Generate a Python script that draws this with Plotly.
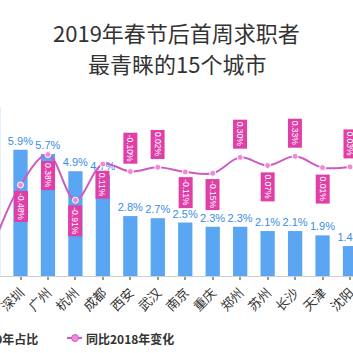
import plotly.graph_objects as go

cities = ["上海", "深圳", "广州", "杭州", "成都", "西安", "武汉", "南京",
          "重庆", "郑州", "苏州", "长沙", "天津", "沈阳"]
share_2019 = [7.9, 5.9, 5.7, 4.9, 4.7, 2.8, 2.7, 2.5, 2.3, 2.3, 2.1, 2.1, 1.9, 1.4]
change_vs_2018 = [-2.2, -0.48, 0.38, -0.91, 0.11, -0.10, 0.02, -0.11, -0.15,
                  0.30, 0.07, 0.33, 0.01, 0.03]
label_above = [False, False, False, False, False, True, True, False, False,
               True, False, True, False, True]
title_lines = ["2019年春节后首周求职者", "最青睐的15个城市"]

W, H = 353, 353
ML, MR, MT, MB = 0, 0, 80, 77
PW, PH = W - ML - MR, H - MT - MB

def px(x):
    return (x - ML) / PW

def py(y):
    return (H - MB - y) / PH

BAR_COLOR = "#5aa6f2"
LINE_COLOR = "#cc5cc4"
MARK_COLOR = "#f08ad8"
TAG_COLOR = "#e03fa8"

fig = go.Figure()
fig.add_trace(go.Bar(
    x=cities, y=share_2019, name="2019年占比",
    marker=dict(color=BAR_COLOR, line=dict(width=0)),
    texttemplate="%{y:.1f}%", textposition="outside",
    textfont=dict(color="#3b8de0", size=11, family="Liberation Sans, Arial"),
    constraintext="none", cliponaxis=False, width=0.52,
))
fig.add_trace(go.Scatter(
    x=cities, y=change_vs_2018, name="同比2018年变化", yaxis="y2",
    mode="lines+markers",
    line=dict(color=LINE_COLOR, width=2, shape="spline", smoothing=1.0),
    marker=dict(color=MARK_COLOR, size=6, line=dict(color="#ffffff", width=1)),
))

annotations = []
for c, v, up in zip(cities, change_vs_2018, label_above):
    if c == "上海":
        continue
    annotations.append(dict(
        x=c, y=v, xref="x", yref="y2", showarrow=False,
        text=f"{v:.2f}%", textangle=90,
        font=dict(color="white", size=8.5, family="Liberation Sans, Arial"),
        bgcolor=TAG_COLOR, borderpad=1.5,
        yshift=23 if up else -21,
    ))

# title (two centred lines)
for t, yy in zip(title_lines, [32, 63]):
    annotations.append(dict(
        x=0.5, y=py(yy), xref="paper", yref="paper", showarrow=False,
        xanchor="center", yanchor="middle", text=t,
        font=dict(size=22, color="#333333"),
    ))

# manual legend (left item is cut off by the frame, as in the reference)
annotations.append(dict(
    x=px(40), y=py(338), xref="paper", yref="paper", showarrow=False,
    xanchor="right", yanchor="middle", text="<b>2019年占比</b>",
    font=dict(size=12, color="#333333"),
))
annotations.append(dict(
    x=px(84), y=py(338), xref="paper", yref="paper", showarrow=False,
    xanchor="left", yanchor="middle", text="<b>同比2018年变化</b>",
    font=dict(size=12, color="#333333"),
))
shapes = [
    dict(type="rect", xref="paper", yref="paper",
         x0=px(-60), x1=px(-48), y0=py(344), y1=py(332),
         fillcolor=BAR_COLOR, line=dict(width=0)),
    dict(type="line", xref="paper", yref="paper",
         x0=px(67), x1=px(82), y0=py(338), y1=py(338),
         line=dict(color=LINE_COLOR, width=2)),
    dict(type="circle", xref="paper", yref="paper",
         x0=px(71.5), x1=px(78.5), y0=py(341.5), y1=py(334.5),
         fillcolor=MARK_COLOR, line=dict(color=LINE_COLOR, width=1)),
]

s = 27.46
r0 = 1 - 20.5 / s
r1 = r0 + PW / s

fig.update_layout(
    width=W, height=H,
    margin=dict(l=ML, r=MR, t=MT, b=MB, autoexpand=False),
    paper_bgcolor="white", plot_bgcolor="white",
    font=dict(family="Noto Sans CJK SC, sans-serif", color="#333333"),
    showlegend=False,
    bargap=0.48,
    xaxis=dict(range=[r0, r1], tickangle=-45, showgrid=False,
               showline=True, linecolor="#d0d0d0", linewidth=1,
               ticks="outside", ticklen=3, tickwidth=2, tickcolor="#9a9a9a",
               tickfont=dict(size=13, color="#333333")),
    yaxis=dict(range=[0, PH / 21.4], visible=False, showgrid=False),
    yaxis2=dict(range=[(168 - (H - MB)) / 35.4, (168 - MT) / 35.4],
                overlaying="y", visible=False, showgrid=False),
    annotations=annotations,
    shapes=shapes,
)

fig.write_html("out.html")
